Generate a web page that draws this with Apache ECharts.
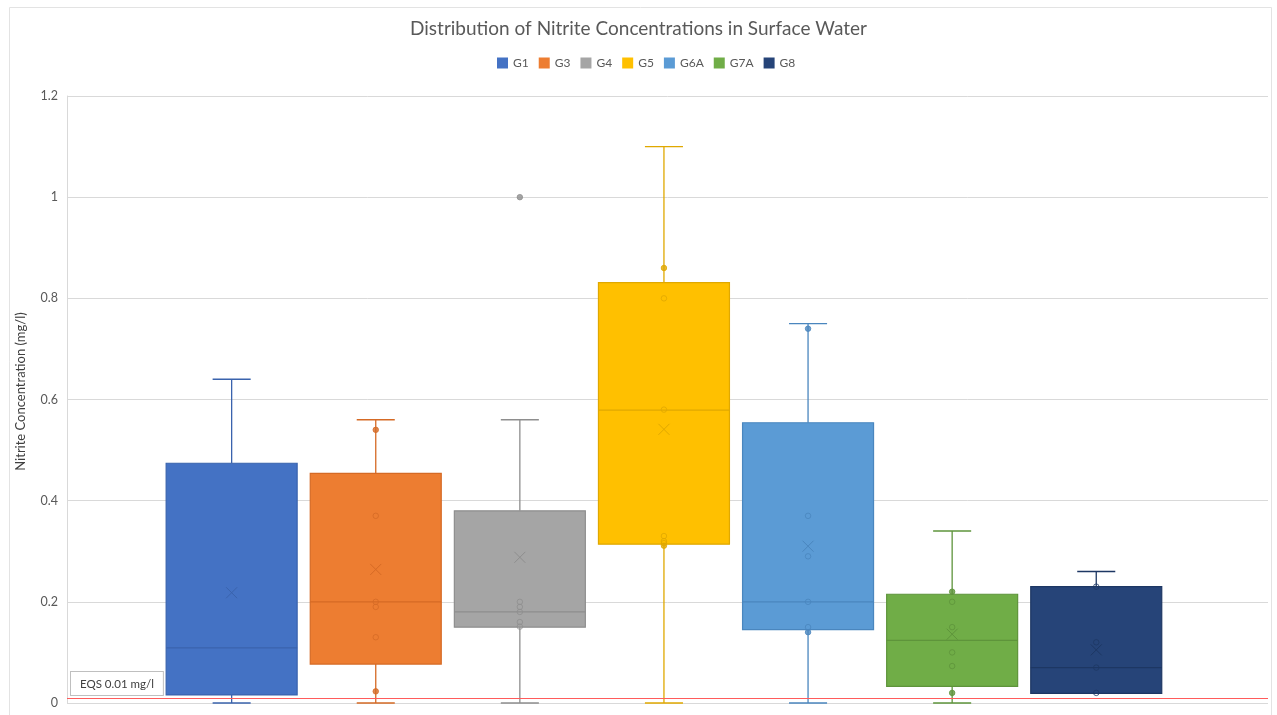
<!DOCTYPE html>
<html>
<head>
<meta charset="utf-8">
<script src="https://cdn.jsdelivr.net/npm/echarts@6/dist/echarts.min.js"></script>
<style>html,body{margin:0;padding:0;background:#fff;}#chart{width:1277px;height:715px;}</style>
</head>
<body>
<div id="chart"></div>
<script>
// ---- data ----
const groups = ['G1', 'G3', 'G4', 'G5', 'G6A', 'G7A', 'G8'];
const whiskerLow = [0, 0, 0, 0, 0, 0, 0.02];
const q1 = [0.016, 0.077, 0.15, 0.314, 0.145, 0.033, 0.019];
const median = [0.109, 0.2, 0.18, 0.579, 0.2, 0.124, 0.07];
const q3 = [0.474, 0.454, 0.38, 0.831, 0.554, 0.215, 0.23];
const whiskerHigh = [0.64, 0.56, 0.56, 1.1, 0.75, 0.34, 0.26];
const mean = [0.218, 0.264, 0.288, 0.541, 0.31, 0.136, 0.105];
const pointsG1 = [];
const pointsG3 = [0.54, 0.37, 0.2, 0.19, 0.13, 0.023];
const pointsG4 = [1.0, 0.2, 0.19, 0.18, 0.16, 0.151];
const pointsG5 = [0.86, 0.8, 0.58, 0.33, 0.32, 0.316, 0.311];
const pointsG6A = [0.74, 0.37, 0.29, 0.2, 0.15, 0.14];
const pointsG7A = [0.22, 0.2, 0.15, 0.1, 0.073, 0.02];
const pointsG8 = [0.23, 0.12, 0.07, 0.02];
const points = [pointsG1, pointsG3, pointsG4, pointsG5, pointsG6A, pointsG7A, pointsG8];
const yTicks = [0, 0.2, 0.4, 0.6, 0.8, 1, 1.2];
const eqsValue = 0.01;

// ---- styles ----
const fillColors = ['#4472C4', '#ED7D31', '#A5A5A5', '#FFC000', '#5B9BD5', '#70AD47', '#264478'];
const darkColors = ['#3A63AD', '#D56A25', '#8E8E8E', '#E0A800', '#4A86BE', '#5E943B', '#1D3763'];

const chart = echarts.init(document.getElementById('chart'), null, {renderer: 'canvas'});

function boxRenderer(params, api) {
  const cat = api.value(0);
  const band = api.size([1, 0])[0];
  const bw = band * 0.909;
  const capW = band * 0.264;
  const x = api.coord([cat, 0])[0];
  const py = v => api.coord([cat, v])[1];
  const lo = py(api.value(1)), b1 = py(api.value(2)), md = py(api.value(3)),
        b3 = py(api.value(4)), hi = py(api.value(5)), mn = py(api.value(6));
  const i = params.seriesIndex - 1;
  const dk = darkColors[i];
  const fill = fillColors[i];
  const ls = {stroke: dk, lineWidth: 1.3};
  const xs = 5.5;
  return {
    type: 'group',
    children: [
      {type: 'line', shape: {x1: x, y1: hi, x2: x, y2: b3}, style: ls},
      {type: 'line', shape: {x1: x, y1: lo, x2: x, y2: b1}, style: ls},
      {type: 'line', shape: {x1: x - capW / 2, y1: hi, x2: x + capW / 2, y2: hi}, style: ls},
      {type: 'line', shape: {x1: x - capW / 2, y1: lo, x2: x + capW / 2, y2: lo}, style: ls},
      {type: 'rect', shape: {x: x - bw / 2, y: b3, width: bw, height: b1 - b3},
        style: {fill: fill, stroke: dk, lineWidth: 1.2}},
      {type: 'line', shape: {x1: x - bw / 2, y1: md, x2: x + bw / 2, y2: md}, style: {stroke: dk, lineWidth: 1.2}},
      {type: 'line', shape: {x1: x - xs, y1: mn - xs, x2: x + xs, y2: mn + xs}, style: {stroke: dk, lineWidth: 1}},
      {type: 'line', shape: {x1: x - xs, y1: mn + xs, x2: x + xs, y2: mn - xs}, style: {stroke: dk, lineWidth: 1}}
    ]
  };
}

const series = [];
// reference line series in main grid
series.push({
  type: 'line', name: 'EQS', xAxisIndex: 0, yAxisIndex: 0, data: [],
  markLine: {
    silent: true, symbol: 'none',
    lineStyle: {color: '#FF5B5B', width: 1.2, type: 'solid'},
    label: {
      show: true, position: 'insideStartTop', distance: [4, 3],
      formatter: 'EQS 0.01 mg/l', fontFamily: 'Lato', fontSize: 11.5, color: '#404040',
      backgroundColor: '#fff', borderColor: '#BFBFBF', borderWidth: 1, padding: [6, 9, 5, 9]
    },
    data: [{yAxis: eqsValue}]
  }
});
groups.forEach((g, i) => {
  series.push({
    type: 'custom', name: g, xAxisIndex: 1, yAxisIndex: 1,
    itemStyle: {color: fillColors[i]},
    renderItem: boxRenderer,
    encode: {x: 0, y: [1, 2, 3, 4, 5, 6]},
    data: [[i, whiskerLow[i], q1[i], median[i], q3[i], whiskerHigh[i], mean[i]]],
    z: 2
  });
});
groups.forEach((g, i) => {
  series.push({
    type: 'scatter', name: g, xAxisIndex: 1, yAxisIndex: 1, z: 5,
    symbol: 'circle', symbolSize: 5.5,
    data: points[i].map(v => {
      const outside = v > q3[i] || v < q1[i];
      return {
        value: [i, v],
        itemStyle: outside
          ? {color: darkColors[i], borderColor: darkColors[i], borderWidth: 1}
          : {color: 'rgba(0,0,0,0)', borderColor: darkColors[i], borderWidth: 1}
      };
    })
  });
});

const gridTop = 96, gridBottom = 12;
const option = {
  backgroundColor: '#fff',
  animation: false,
  title: {
    text: 'Distribution of Nitrite Concentrations in Surface Water',
    left: 'center', top: 14,
    textStyle: {fontFamily: 'Lato', fontSize: 19, fontWeight: 'normal', color: '#595959'}
  },
  legend: {
    data: groups, top: 52, left: 492,
    icon: 'rect', itemWidth: 11, itemHeight: 11, itemGap: 10,
    textStyle: {fontFamily: 'Lato', fontSize: 12, color: '#595959'}
  },
  graphic: [{
    type: 'rect', left: 7, top: 5, silent: true,
    shape: {width: 1262, height: 740},
    style: {fill: 'none', stroke: '#E3E3E3', lineWidth: 1}
  }],
  grid: [
    {left: 67, right: 9, top: gridTop, bottom: gridBottom},
    {left: 159.6, width: 1008.7, top: gridTop, bottom: gridBottom}
  ],
  xAxis: [
    {gridIndex: 0, type: 'value', min: 0, max: 1, show: false},
    {gridIndex: 1, type: 'category', data: groups, show: false}
  ],
  yAxis: [
    {
      gridIndex: 0, type: 'value', min: yTicks[0], max: yTicks[yTicks.length - 1], interval: 0.2,
      name: 'Nitrite Concentration (mg/l)', nameLocation: 'middle', nameGap: 40,
      nameTextStyle: {fontFamily: 'Lato', fontSize: 13, color: '#404040', padding: [0, 0, 0, 16]},
      axisLine: {show: true, lineStyle: {color: '#D9D9D9'}},
      axisTick: {show: false},
      axisLabel: {fontFamily: 'Lato', fontSize: 12.5, color: '#595959', margin: 9},
      splitLine: {show: true, lineStyle: {color: '#D9D9D9', width: 1}}
    },
    {gridIndex: 1, type: 'value', min: yTicks[0], max: yTicks[yTicks.length - 1], show: false, splitLine: {show: false}}
  ],
  series: series
};
chart.setOption(option);
</script>
</body>
</html>
